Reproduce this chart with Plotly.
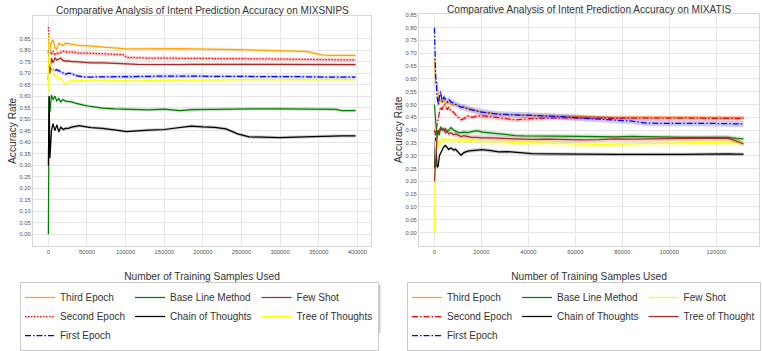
import plotly.graph_objects as go

# ---------------- data: MIXSNIPS (left) ----------------
X_SNIPS = [0, 1000, 2000, 4000, 6000, 8500, 11000, 13500, 16000, 19000, 22000, 26000,
           30000, 35000, 40000, 47000, 55000, 70000, 85000, 97000, 101000, 115000,
           130000, 150000, 170000, 185000, 200000, 215000, 230000, 245000, 260000,
           280000, 300000, 320000, 335000, 345000, 355000, 372000, 380000, 397760]

SNIPS_THIRD = [0.66, 0.87, 0.80, 0.835, 0.845, 0.81, 0.805, 0.83, 0.825, 0.82, 0.83, 0.828,
               0.825, 0.822, 0.82, 0.82, 0.818, 0.815, 0.812, 0.808, 0.805, 0.805,
               0.806, 0.807, 0.806, 0.805, 0.805, 0.804, 0.803, 0.802, 0.801,
               0.800, 0.798, 0.796, 0.793, 0.785, 0.778, 0.777, 0.777, 0.777]
SNIPS_SECOND = [0.90, 0.77, 0.80, 0.78, 0.795, 0.778, 0.79, 0.785, 0.79, 0.795, 0.793, 0.79,
                0.792, 0.788, 0.787, 0.787, 0.785, 0.784, 0.782, 0.780, 0.768, 0.766,
                0.765, 0.765, 0.765, 0.764, 0.764, 0.764, 0.763, 0.763, 0.762,
                0.762, 0.761, 0.760, 0.759, 0.758, 0.757, 0.757, 0.757, 0.757]
SNIPS_FIRST = [0.80, 0.72, 0.74, 0.71, 0.716, 0.712, 0.715, 0.71, 0.708, 0.70, 0.695, 0.70,
               0.698, 0.69, 0.686, 0.683, 0.683, 0.684, 0.684, 0.683, 0.683, 0.684,
               0.686, 0.687, 0.687, 0.687, 0.687, 0.686, 0.686, 0.686, 0.685,
               0.685, 0.685, 0.684, 0.684, 0.684, 0.683, 0.683, 0.683, 0.683]
SNIPS_BASE = [0.0, 0.60, 0.53, 0.605, 0.585, 0.60, 0.578, 0.59, 0.575, 0.585, 0.578, 0.578,
              0.575, 0.57, 0.565, 0.56, 0.555, 0.548, 0.545, 0.543, 0.542, 0.542,
              0.540, 0.543, 0.537, 0.541, 0.542, 0.543, 0.544, 0.545, 0.546,
              0.545, 0.545, 0.544, 0.543, 0.543, 0.543, 0.542, 0.537, 0.537]
SNIPS_COT = [0.30, 0.60, 0.33, 0.45, 0.48, 0.45, 0.475, 0.445, 0.465, 0.455, 0.46, 0.46,
             0.465, 0.468, 0.472, 0.468, 0.463, 0.46, 0.455, 0.448, 0.446, 0.45,
             0.452, 0.455, 0.465, 0.470, 0.466, 0.464, 0.458, 0.436, 0.423,
             0.420, 0.420, 0.422, 0.424, 0.425, 0.426, 0.427, 0.427, 0.427]
SNIPS_FEW = [0.67, 0.76, 0.70, 0.765, 0.745, 0.765, 0.757, 0.762, 0.765, 0.755, 0.752, 0.753,
             0.75, 0.75, 0.748, 0.747, 0.745, 0.745, 0.744, 0.743, 0.74, 0.738,
             0.737, 0.737, 0.737, 0.738, 0.738, 0.738, 0.737, 0.737, 0.737,
             0.737, 0.737, 0.737, 0.737, 0.737, 0.737, 0.737, 0.737, 0.737]
SNIPS_TOT = [0.62, 0.87, 0.74, 0.72, 0.71, 0.69, 0.68, 0.676, 0.68, 0.665, 0.652, 0.66,
             0.668, 0.668, 0.666, 0.668, 0.670, 0.670, 0.668, 0.667, 0.666, 0.665,
             0.668, 0.670, 0.670, 0.670, 0.671, 0.671, 0.671, 0.671, 0.672,
             0.672, 0.672, 0.672, 0.672, 0.672, 0.672, 0.672, 0.672, 0.672]

# ---------------- data: MIXATIS (right) ----------------
X_ATIS = [0, 500, 1100, 1600, 2100, 2600, 3300, 4000, 4700, 5500, 6100, 7000, 8200, 9000,
          10300, 11300, 12500, 14200, 16000, 18000, 20300, 24000, 27400, 31000, 34500,
          38000, 41500, 48600, 55700, 62800, 70000, 77000, 84100, 91000, 98300, 105400,
          112500, 119500, 125000, 128500, 131620]

ATIS_THIRD = [0.68, 0.58, 0.59, 0.55, 0.50, 0.52, 0.51, 0.52, 0.50, 0.51, 0.505, 0.50, 0.50, 0.50,
              0.495, 0.49, 0.49, 0.485, 0.48, 0.475, 0.47, 0.467, 0.462, 0.46, 0.46,
              0.46, 0.458, 0.457, 0.455, 0.452, 0.451, 0.45, 0.45, 0.45, 0.449, 0.449,
              0.449, 0.449, 0.449, 0.449, 0.449]
ATIS_SECOND = [0.40, 0.38, 0.42, 0.45, 0.47, 0.49, 0.48, 0.50, 0.495, 0.48, 0.49, 0.475, 0.47, 0.46,
               0.45, 0.44, 0.445, 0.455, 0.45, 0.455, 0.456, 0.452, 0.448, 0.445, 0.44,
               0.443, 0.445, 0.447, 0.448, 0.447, 0.446, 0.446, 0.447, 0.447, 0.447, 0.448,
               0.448, 0.447, 0.447, 0.446, 0.446]
ATIS_FIRST = [0.80, 0.62, 0.53, 0.50, 0.53, 0.55, 0.51, 0.53, 0.52, 0.51, 0.52, 0.51, 0.505, 0.50,
              0.495, 0.49, 0.49, 0.483, 0.478, 0.474, 0.47, 0.465, 0.462, 0.461, 0.46,
              0.459, 0.458, 0.456, 0.452, 0.447, 0.443, 0.44, 0.435, 0.427, 0.426, 0.426,
              0.426, 0.426, 0.425, 0.425, 0.424]
ATIS_BASE = [0.50, 0.45, 0.37, 0.40, 0.38, 0.41, 0.405, 0.40, 0.405, 0.395, 0.40, 0.41, 0.40, 0.395,
             0.39, 0.39, 0.392, 0.39, 0.395, 0.398, 0.392, 0.388, 0.385, 0.383, 0.379,
             0.378, 0.378, 0.378, 0.378, 0.376, 0.375, 0.374, 0.376, 0.374, 0.373, 0.372,
             0.372, 0.373, 0.372, 0.368, 0.366]
ATIS_COT = [0.25, 0.37, 0.255, 0.26, 0.30, 0.31, 0.32, 0.335, 0.34, 0.33, 0.325, 0.33, 0.322, 0.325,
            0.31, 0.302, 0.312, 0.318, 0.32, 0.322, 0.324, 0.32, 0.315, 0.316, 0.314,
            0.312, 0.308, 0.307, 0.306, 0.305, 0.304, 0.305, 0.305, 0.304, 0.305, 0.305,
            0.306, 0.308, 0.307, 0.306, 0.306]
ATIS_FEW = [0.0, 0.35, 0.37, 0.33, 0.36, 0.35, 0.37, 0.355, 0.365, 0.36, 0.365, 0.36, 0.362, 0.365,
            0.36, 0.358, 0.362, 0.36, 0.358, 0.356, 0.355, 0.356, 0.354, 0.353, 0.352,
            0.351, 0.35, 0.349, 0.347, 0.345, 0.344, 0.345, 0.346, 0.347, 0.348, 0.349,
            0.350, 0.352, 0.353, 0.354, 0.354]
ATIS_TOT = [0.20, 0.30, 0.37, 0.40, 0.395, 0.41, 0.40, 0.405, 0.39, 0.395, 0.385, 0.39, 0.382, 0.385,
            0.378, 0.375, 0.378, 0.375, 0.372, 0.372, 0.37, 0.37, 0.368, 0.367, 0.366,
            0.365, 0.364, 0.365, 0.363, 0.362, 0.363, 0.366, 0.365, 0.366, 0.366, 0.367,
            0.368, 0.369, 0.368, 0.358, 0.346]

# confidence-band half widths
SNIPS_CI = [0.007, 0.007, 0.007, 0.007, 0.007, 0.007, 0.007]
ATIS_CI = [0.008, 0.008, 0.012, 0.008, 0.007, 0.012, 0.010]

NAMES_SNIPS = ["Third Epoch", "Second Epoch", "First Epoch", "Base Line Method",
               "Chain of Thoughts", "Few Shot", "Tree of Thoughts"]
NAMES_ATIS = ["Third Epoch", "Second Epoch", "First Epoch", "Base Line Method",
              "Chain of Thoughts", "Few Shot", "Tree of Thought"]

Y_TICKS = [round(i * 0.05, 2) for i in range(18)]
X_TICKS_SNIPS = list(range(0, 400001, 50000))
X_TICKS_ATIS = list(range(0, 120001, 20000))

FONT = "Liberation Sans, Arial, sans-serif"
RGB = {"orange": (255, 165, 0), "red": (255, 0, 0), "blue": (0, 0, 255),
       "green": (0, 128, 0), "black": (0, 0, 0), "brown": (165, 42, 42),
       "yellow": (255, 255, 0)}
DOT = "1.5px,1.5px"
DASHDOT = "6px,2px,1.5px,2px"

fig = go.Figure()


def add_series(x, ys, cis, names, colors, dashes, groups, xa, ya, legend):
    for y, ci, name, col, dash, grp in zip(ys, cis, names, colors, dashes, groups):
        r, g, b = RGB[col]
        up = [v + ci for v in y]
        lo = [v - ci for v in y]
        fig.add_trace(go.Scatter(
            x=list(x) + list(x)[::-1], y=up + lo[::-1], fill="toself",
            fillcolor=f"rgba({r},{g},{b},0.2)", line=dict(width=0),
            hoverinfo="skip", showlegend=False, legendgroup=grp,
            xaxis=xa, yaxis=ya, legend=legend))
        fig.add_trace(go.Scatter(
            x=x, y=y, mode="lines", name=name, legendgroup=grp,
            line=dict(color=f"rgb({r},{g},{b})", width=1.25, dash=dash),
            xaxis=xa, yaxis=ya, legend=legend))


add_series(X_SNIPS,
           [SNIPS_THIRD, SNIPS_SECOND, SNIPS_FIRST, SNIPS_BASE, SNIPS_COT, SNIPS_FEW, SNIPS_TOT],
           SNIPS_CI, NAMES_SNIPS,
           ["orange", "red", "blue", "green", "black", "brown", "yellow"],
           ["solid", DOT, DASHDOT, "solid", "solid", "solid", "solid"],
           ["a1", "a1", "a1", "a2", "a2", "a3", "a3"], "x", "y", "legend")
add_series(X_ATIS,
           [ATIS_THIRD, ATIS_SECOND, ATIS_FIRST, ATIS_BASE, ATIS_COT, ATIS_FEW, ATIS_TOT],
           ATIS_CI, NAMES_ATIS,
           ["orange", "red", "blue", "green", "black", "yellow", "brown"],
           ["solid", DASHDOT, DASHDOT, "solid", "solid", "solid", "solid"],
           ["b1", "b1", "b1", "b2", "b2", "b3", "b3"], "x2", "y2", "legend2")

W, H = 762, 351
grid = "#e6e6e6"
spine = "#d6d6d6"
tickfont = dict(family=FONT, size=5.8, color="#555555")
titlefont = dict(family=FONT, size=10.2, color="#333333")

common_x = dict(showgrid=True, gridcolor=grid, gridwidth=1, zeroline=False,
                showline=True, mirror=True, linecolor=spine, linewidth=1,
                ticks="", tickfont=tickfont, title_font=titlefont,
                title_standoff=19)
common_y = dict(showgrid=True, gridcolor=grid, gridwidth=1, zeroline=False,
                showline=True, mirror=True, linecolor=spine, linewidth=1,
                ticks="", tickfont=tickfont, title_font=titlefont,
                tickvals=Y_TICKS, ticktext=[f"{v:.2f}" for v in Y_TICKS],
                title_text="Accuracy Rate", title_standoff=0)

legend_common = dict(orientation="h", traceorder="grouped", bgcolor="white",
                     bordercolor="#cccccc", borderwidth=1,
                     font=dict(family=FONT, size=10, color="#333333"),
                     xanchor="left", yanchor="top")

shadow = dict(type="rect", xref="paper", yref="paper", layer="above",
              line=dict(width=0), fillcolor="rgba(0,0,0,0.22)")

fig.update_layout(
    width=W, height=H, margin=dict(l=0, r=0, t=0, b=0),
    paper_bgcolor="white", plot_bgcolor="white",
    xaxis=dict(common_x, domain=[33 / W, 371 / W], range=[-19888, 417648],
               tickvals=X_TICKS_SNIPS, ticktext=[str(v) for v in X_TICKS_SNIPS],
               title_text="Number of Training Samples Used", anchor="y"),
    yaxis=dict(common_y, domain=[1 - 260 / H, 1 - 15 / H], range=[-0.05, 0.948],
               anchor="x"),
    xaxis2=dict(common_x, domain=[419 / W, 759 / W], range=[-6581, 138201],
                tickvals=X_TICKS_ATIS, ticktext=[str(v) for v in X_TICKS_ATIS],
                title_text="Number of Training Samples Used", anchor="y2"),
    yaxis2=dict(common_y, domain=[1 - 260 / H, 1 - 12.7 / H], range=[-0.0512, 0.8537],
                anchor="x2"),
    legend=dict(legend_common, x=20 / W, y=1 - 299 / H),
    legend2=dict(legend_common, x=407 / W, y=1 - 299 / H),
    shapes=[
        dict(shadow, x0=23 / W, x1=380.5 / W, y0=1 - 353 / H, y1=1 - 302 / H),
        dict(shadow, x0=410 / W, x1=759.5 / W, y0=1 - 353 / H, y1=1 - 302 / H),
    ],
    annotations=[
        dict(text="Comparative Analysis of Intent Prediction Accuracy on MIXSNIPS",
             xref="paper", yref="paper", x=202 / W, y=1 - 9 / H, xanchor="center",
             yanchor="middle", showarrow=False,
             font=dict(family=FONT, size=10.1, color="#333333")),
        dict(text="Comparative Analysis of Intent Prediction Accuracy on MIXATIS",
             xref="paper", yref="paper", x=589 / W, y=1 - 7.5 / H, xanchor="center",
             yanchor="middle", showarrow=False,
             font=dict(family=FONT, size=10.1, color="#333333")),
    ],
)

fig.write_html("out.html", config={"displayModeBar": False},
               post_script="document.body.style.margin='0';")
